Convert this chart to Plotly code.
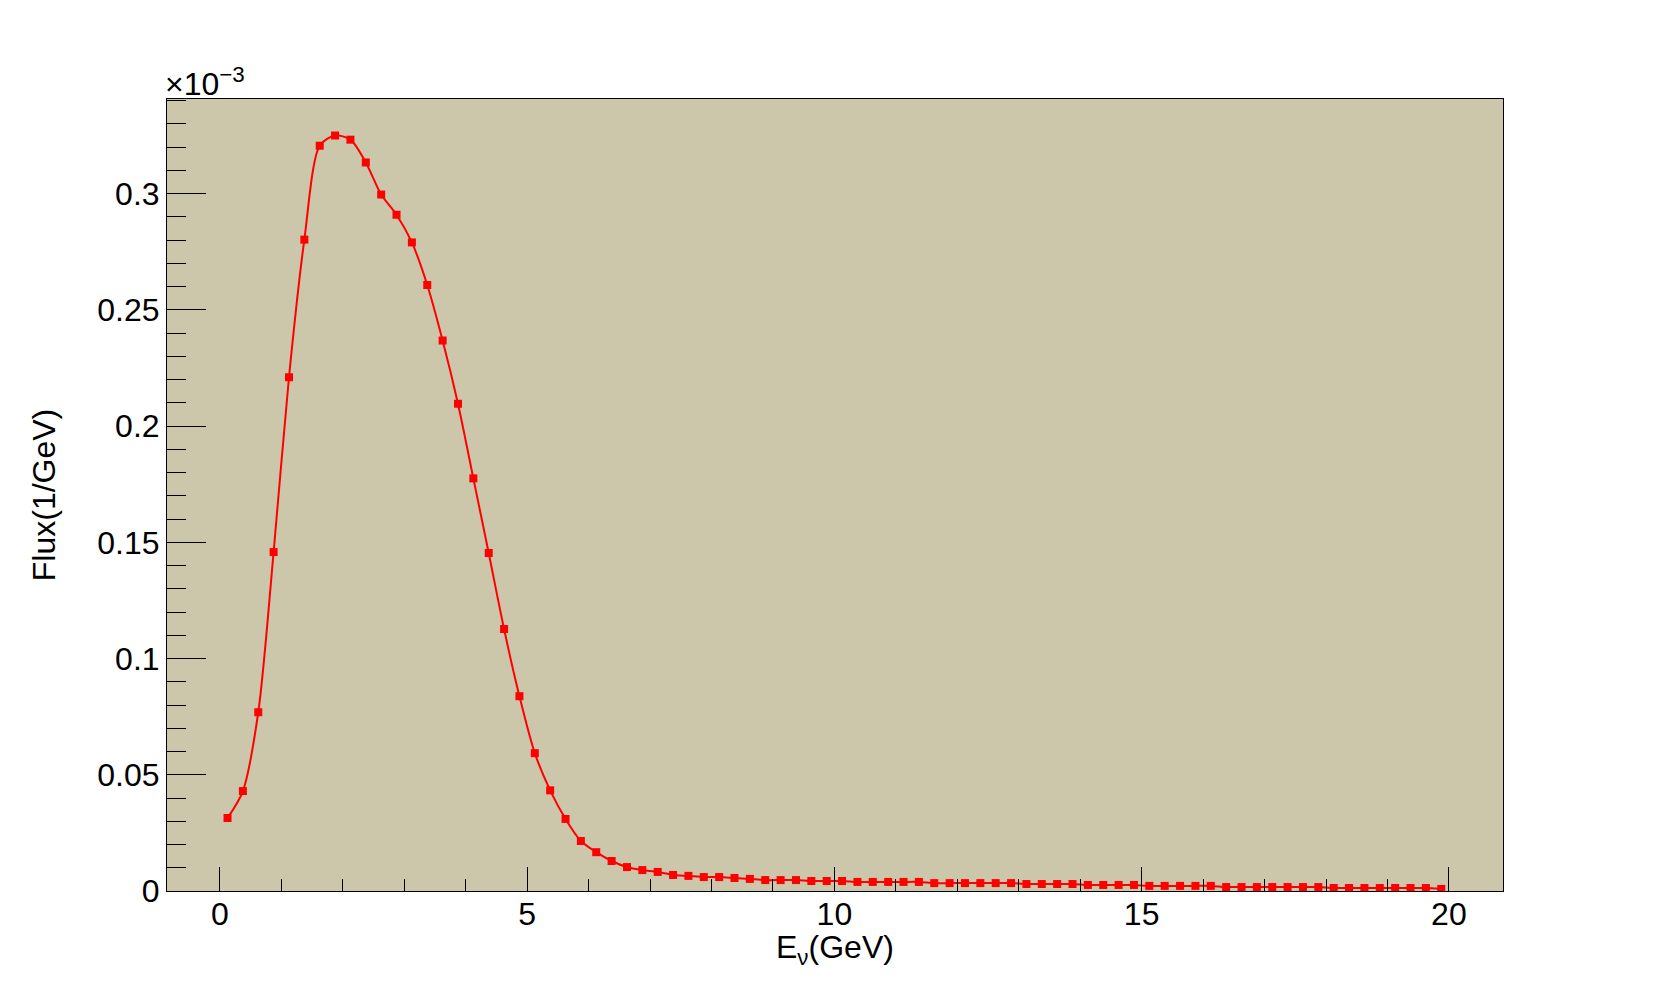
"""Neutrino flux spectrum, redrawn in Plotly with a ROOT-like look."""

import plotly.graph_objects as go

# bin centres (GeV), 0.25 GeV bins
energy_gev = [0.125 + 0.25 * i for i in range(80)]

# flux in units of 1e-3 / GeV
flux_e3 = [
    0.0314, 0.0430, 0.0769, 0.1458, 0.2210, 0.2802, 0.3206, 0.3250,
    0.3232, 0.3134, 0.2996, 0.2909, 0.2790, 0.2607, 0.2368, 0.2096,
    0.1775, 0.1454, 0.1127, 0.0838, 0.0593, 0.0433, 0.0310, 0.0215,
    0.0167, 0.0129, 0.0103, 0.0090, 0.0082, 0.0069, 0.0065, 0.0060,
    0.0060, 0.0056, 0.0052, 0.0047, 0.0047, 0.0047, 0.0043, 0.0043,
    0.0043, 0.0039, 0.0039, 0.0039, 0.0039, 0.0039, 0.0034, 0.0034,
    0.0034, 0.0034, 0.0034, 0.0034, 0.0030, 0.0030, 0.0030, 0.0030,
    0.0026, 0.0026, 0.0026, 0.0026, 0.0022, 0.0022, 0.0022, 0.0022,
    0.0022, 0.0017, 0.0017, 0.0017, 0.0017, 0.0017, 0.0017, 0.0017,
    0.0013, 0.0013, 0.0013, 0.0013, 0.0013, 0.0013, 0.0013, 0.0009,
]

x_title = "E<sub>ν</sub>(GeV)"
y_title = "Flux(1/GeV)"
y_exponent = "×10<sup>−3</sup>"

FRAME_FILL = "#ccc6aa"
RED = "#ff0000"
FONT = "Liberation Sans, Arial, Helvetica, sans-serif"
FONT_SIZE = 32
text_font = dict(family=FONT, size=FONT_SIZE, color="black")

fig = go.Figure()
fig.add_trace(
    go.Scatter(
        x=energy_gev,
        y=flux_e3,
        mode="lines+markers",
        line=dict(color=RED, width=2, shape="spline", smoothing=0.8),
        marker=dict(symbol="square", size=8, color=RED),
        showlegend=False,
    )
)

fig.update_xaxes(
    range=[-0.86, 20.88],
    tick0=0,
    dtick=5,
    ticks="inside",
    ticklen=24,
    tickwidth=1,
    tickcolor="black",
    minor=dict(ticks="inside", dtick=1, ticklen=12, tickwidth=1, tickcolor="black"),
    showline=True,
    linecolor="black",
    linewidth=1,
    mirror=True,
    showgrid=False,
    zeroline=False,
    tickfont=text_font,
    ticklabelstandoff=-5,
)
fig.update_yaxes(
    range=[0, 0.3407],
    tick0=0,
    dtick=0.05,
    ticks="inside",
    ticklen=39,
    tickwidth=1,
    tickcolor="black",
    minor=dict(ticks="inside", dtick=0.01, ticklen=19, tickwidth=1, tickcolor="black"),
    showline=True,
    linecolor="black",
    linewidth=1,
    mirror=True,
    showgrid=False,
    zeroline=False,
    tickfont=text_font,
    title=dict(text=y_title, font=text_font, standoff=32),
)

# x title and the ROOT-style exponent, placed as annotations
fig.add_annotation(
    text=x_title,
    xref="paper",
    yref="paper",
    x=0.5,
    y=0,
    xanchor="center",
    yanchor="top",
    showarrow=False,
    font=text_font,
    yshift=-36,
)
fig.add_annotation(
    text=y_exponent,
    xref="paper",
    yref="paper",
    x=0,
    y=1,
    xanchor="left",
    yanchor="bottom",
    showarrow=False,
    font=text_font,
    xshift=-4,
    yshift=-5,
)

fig.update_layout(
    width=1671,
    height=990,
    margin=dict(l=167, r=168, t=99, b=99),
    paper_bgcolor="white",
    plot_bgcolor=FRAME_FILL,
)

fig.write_html(
    "out.html",
    config={"displayModeBar": False},
    post_script="document.body.style.margin='0';",
)
